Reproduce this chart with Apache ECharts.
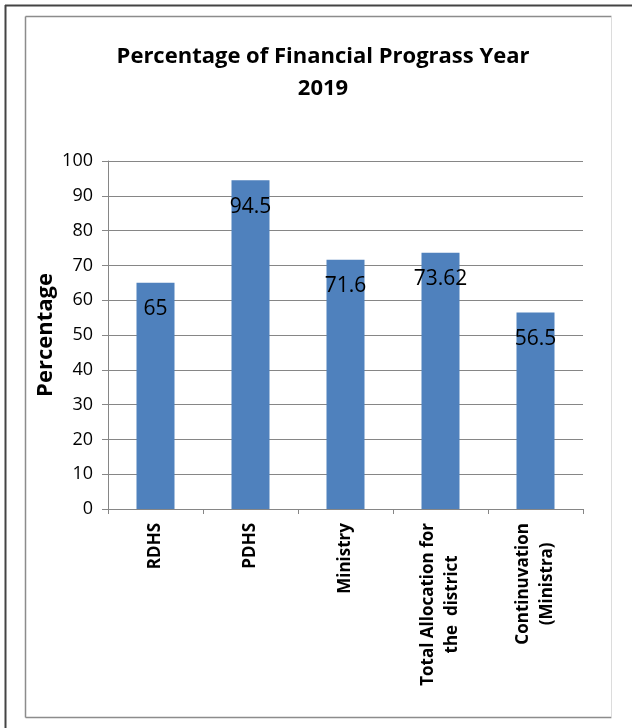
<!DOCTYPE html>
<html>
<head>
<meta charset="utf-8">
<script src="https://cdn.jsdelivr.net/npm/echarts@6/dist/echarts.min.js"></script>
<style>html,body{margin:0;padding:0;background:#fff;}#c{width:632px;height:728px;}</style>
</head>
<body>
<div id="c"></div>
<script>
var categories = ['RDHS', 'PDHS', 'Ministry', 'Total Allocation for\nthe  district', 'Continuvation\n(Ministra)'];
var values = [65, 94.5, 71.6, 73.62, 56.5];
var yTicks = [0, 10, 20, 30, 40, 50, 60, 70, 80, 90, 100];
var titleText = 'Percentage of Financial Prograss Year\n2019';
var yName = 'Percentage';

var FONT = 'Open Sans';
var chart = echarts.init(document.getElementById('c'), null, {renderer: 'canvas'});
var option = {
  backgroundColor: '#fff',
  animation: false,
  title: {
    text: titleText,
    left: 318, top: 36, textAlign: 'center',
    textStyle: {fontFamily: FONT, fontWeight: 'bold', fontSize: 22, color: '#000', lineHeight: 32}
  },
  graphic: [
    {type: 'line', shape: {x1: 5.5, y1: 5, x2: 5.5, y2: 728}, style: {stroke: '#444', lineWidth: 2}},
    {type: 'line', shape: {x1: 5, y1: 5.5, x2: 632, y2: 5.5}, style: {stroke: '#444', lineWidth: 2}},
    {type: 'line', shape: {x1: 25.5, y1: 16.5, x2: 25.5, y2: 717.5}, style: {stroke: '#8c8c8c', lineWidth: 1.5}},
    {type: 'line', shape: {x1: 25.5, y1: 16.5, x2: 611.5, y2: 16.5}, style: {stroke: '#8c8c8c', lineWidth: 1.5}},
    {type: 'line', shape: {x1: 25.5, y1: 717.5, x2: 611.5, y2: 717.5}, style: {stroke: '#8c8c8c', lineWidth: 1.5}},
    {type: 'line', shape: {x1: 611.5, y1: 16.5, x2: 611.5, y2: 717.5}, style: {stroke: '#dcdcdc', lineWidth: 1}}
  ],
  grid: {left: 108, right: 49, top: 161, bottom: 219, containLabel: false},
  xAxis: {
    type: 'category',
    data: categories,
    axisLine: {lineStyle: {color: '#868686', width: 1}},
    axisTick: {show: true, length: 5, alignWithLabel: false, lineStyle: {color: '#868686'}},
    axisLabel: {
      interval: 0, rotate: 90, margin: 14,
      fontFamily: FONT, fontWeight: 'bold', fontSize: 17, color: '#000', lineHeight: 24,
      formatter: function (v) { return v.split('\n').map(function (s) { return '{c|' + s + '}'; }).join('\n'); },
      rich: {c: {align: 'center', fontFamily: FONT, fontWeight: 'bold', fontSize: 17, color: '#000', lineHeight: 24}}
    }
  },
  yAxis: {
    type: 'value', min: 0, max: 100, interval: 10,
    name: yName, nameLocation: 'middle', nameGap: 51, nameRotate: 90, nameMoveOverlap: false,
    nameTextStyle: {fontFamily: FONT, fontWeight: 'bold', fontSize: 22, color: '#000'},
    axisLine: {show: true, lineStyle: {color: '#868686', width: 1}},
    axisTick: {show: true, length: 6, lineStyle: {color: '#868686'}},
    splitLine: {show: true, lineStyle: {color: '#868686', width: 1}},
    axisLabel: {
      margin: 15, fontFamily: FONT, fontSize: 18, color: '#000',
      formatter: function (v) { return yTicks.indexOf(v) >= 0 ? String(v) : ''; }
    }
  },
  series: [{
    type: 'bar',
    data: values,
    barWidth: 38,
    itemStyle: {color: '#4F81BD'},
    label: {show: true, position: 'insideTop', distance: 16, fontFamily: FONT, fontSize: 21, color: '#000'}
  }]
};
chart.setOption(option);
</script>
</body>
</html>
